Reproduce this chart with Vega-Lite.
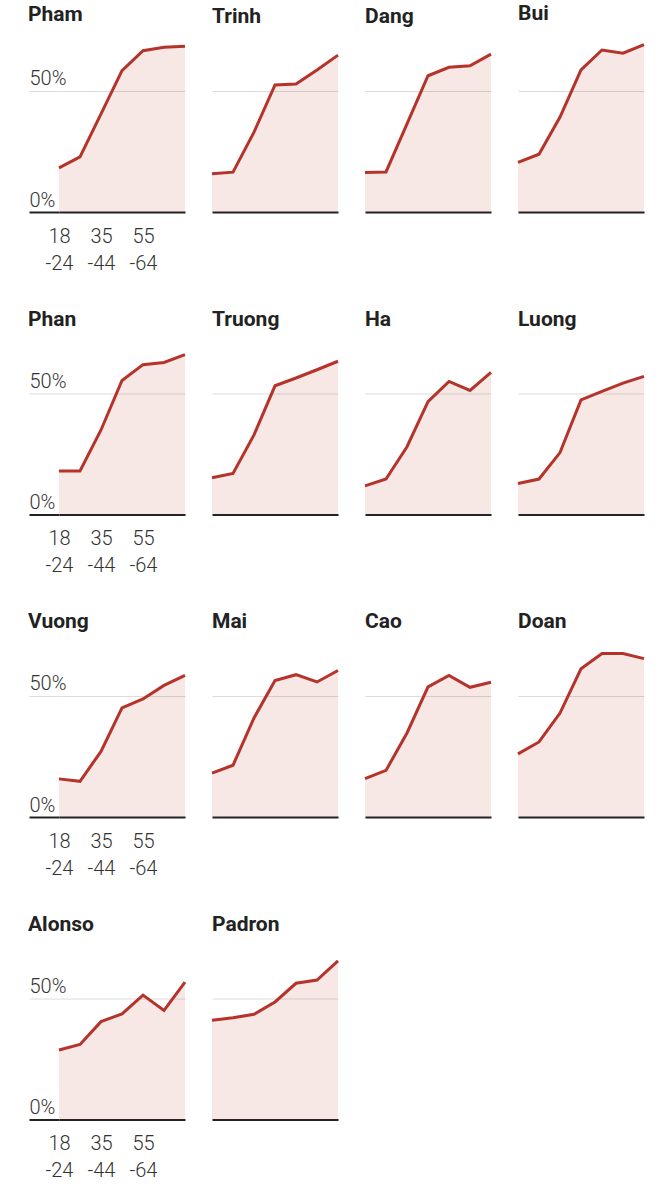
{
  "$schema": "https://vega.github.io/schema/vega-lite/v6.json",
  "padding": {"left": 28, "top": 2, "right": 0, "bottom": 0},
  "background": "white",
  "config": {
    "view": {"stroke": null},
    "font": "Roboto",
    "title": {"anchor": "start", "frame": "group", "fontSize": 21, "fontWeight": "bold", "color": "#222", "offset": 15, "font": "Roboto"},
    "axis": {"labelFont": "Roboto", "labelFontSize": 20, "labelColor": "#333", "labelFontWeight": 300, "title": null}
  },
  "data": {"values": [
    {"name": "Pham", "age": "18-24", "pct": 18.2}, {"name": "Pham", "age": "25-34", "pct": 22.7}, {"name": "Pham", "age": "35-44", "pct": 40.4}, {"name": "Pham", "age": "45-54", "pct": 58.2}, {"name": "Pham", "age": "55-64", "pct": 66.4}, {"name": "Pham", "age": "65-74", "pct": 67.8}, {"name": "Pham", "age": "75+", "pct": 68.2},
    {"name": "Trinh", "age": "18-24", "pct": 15.8}, {"name": "Trinh", "age": "25-34", "pct": 16.4}, {"name": "Trinh", "age": "35-44", "pct": 32.9}, {"name": "Trinh", "age": "45-54", "pct": 52.3}, {"name": "Trinh", "age": "55-64", "pct": 52.7}, {"name": "Trinh", "age": "65-74", "pct": 58.5}, {"name": "Trinh", "age": "75+", "pct": 64.6},
    {"name": "Dang", "age": "18-24", "pct": 16.3}, {"name": "Dang", "age": "25-34", "pct": 16.5}, {"name": "Dang", "age": "35-44", "pct": 36.3}, {"name": "Dang", "age": "45-54", "pct": 56.1}, {"name": "Dang", "age": "55-64", "pct": 59.6}, {"name": "Dang", "age": "65-74", "pct": 60.2}, {"name": "Dang", "age": "75+", "pct": 65.0},
    {"name": "Bui", "age": "18-24", "pct": 20.4}, {"name": "Bui", "age": "25-34", "pct": 23.8}, {"name": "Bui", "age": "35-44", "pct": 39.1}, {"name": "Bui", "age": "45-54", "pct": 58.5}, {"name": "Bui", "age": "55-64", "pct": 66.7}, {"name": "Bui", "age": "65-74", "pct": 65.4}, {"name": "Bui", "age": "75+", "pct": 68.9},
    {"name": "Phan", "age": "18-24", "pct": 17.9}, {"name": "Phan", "age": "25-34", "pct": 17.9}, {"name": "Phan", "age": "35-44", "pct": 34.8}, {"name": "Phan", "age": "45-54", "pct": 55.2}, {"name": "Phan", "age": "55-64", "pct": 61.7}, {"name": "Phan", "age": "65-74", "pct": 62.6}, {"name": "Phan", "age": "75+", "pct": 65.8},
    {"name": "Truong", "age": "18-24", "pct": 15.1}, {"name": "Truong", "age": "25-34", "pct": 16.9}, {"name": "Truong", "age": "35-44", "pct": 32.8}, {"name": "Truong", "age": "45-54", "pct": 53.0}, {"name": "Truong", "age": "55-64", "pct": 56.2}, {"name": "Truong", "age": "65-74", "pct": 59.6}, {"name": "Truong", "age": "75+", "pct": 63.1},
    {"name": "Ha", "age": "18-24", "pct": 11.8}, {"name": "Ha", "age": "25-34", "pct": 14.6}, {"name": "Ha", "age": "35-44", "pct": 27.9}, {"name": "Ha", "age": "45-54", "pct": 46.5}, {"name": "Ha", "age": "55-64", "pct": 54.8}, {"name": "Ha", "age": "65-74", "pct": 51.1}, {"name": "Ha", "age": "75+", "pct": 58.5},
    {"name": "Luong", "age": "18-24", "pct": 12.8}, {"name": "Luong", "age": "25-34", "pct": 14.6}, {"name": "Luong", "age": "35-44", "pct": 25.5}, {"name": "Luong", "age": "45-54", "pct": 47.2}, {"name": "Luong", "age": "55-64", "pct": 50.7}, {"name": "Luong", "age": "65-74", "pct": 54.1}, {"name": "Luong", "age": "75+", "pct": 56.9},
    {"name": "Vuong", "age": "18-24", "pct": 15.7}, {"name": "Vuong", "age": "25-34", "pct": 14.7}, {"name": "Vuong", "age": "35-44", "pct": 27.0}, {"name": "Vuong", "age": "45-54", "pct": 44.9}, {"name": "Vuong", "age": "55-64", "pct": 48.6}, {"name": "Vuong", "age": "65-74", "pct": 54.2}, {"name": "Vuong", "age": "75+", "pct": 58.3},
    {"name": "Mai", "age": "18-24", "pct": 18.1}, {"name": "Mai", "age": "25-34", "pct": 21.3}, {"name": "Mai", "age": "35-44", "pct": 40.8}, {"name": "Mai", "age": "45-54", "pct": 56.2}, {"name": "Mai", "age": "55-64", "pct": 58.6}, {"name": "Mai", "age": "65-74", "pct": 55.6}, {"name": "Mai", "age": "75+", "pct": 60.3},
    {"name": "Cao", "age": "18-24", "pct": 15.8}, {"name": "Cao", "age": "25-34", "pct": 19.2}, {"name": "Cao", "age": "35-44", "pct": 34.6}, {"name": "Cao", "age": "45-54", "pct": 53.6}, {"name": "Cao", "age": "55-64", "pct": 58.3}, {"name": "Cao", "age": "65-74", "pct": 53.4}, {"name": "Cao", "age": "75+", "pct": 55.5},
    {"name": "Doan", "age": "18-24", "pct": 26.0}, {"name": "Doan", "age": "25-34", "pct": 30.9}, {"name": "Doan", "age": "35-44", "pct": 42.8}, {"name": "Doan", "age": "45-54", "pct": 61.0}, {"name": "Doan", "age": "55-64", "pct": 67.3}, {"name": "Doan", "age": "65-74", "pct": 67.3}, {"name": "Doan", "age": "75+", "pct": 65.2},
    {"name": "Alonso", "age": "18-24", "pct": 28.6}, {"name": "Alonso", "age": "25-34", "pct": 30.9}, {"name": "Alonso", "age": "35-44", "pct": 40.3}, {"name": "Alonso", "age": "45-54", "pct": 43.5}, {"name": "Alonso", "age": "55-64", "pct": 51.2}, {"name": "Alonso", "age": "65-74", "pct": 44.9}, {"name": "Alonso", "age": "75+", "pct": 56.6},
    {"name": "Padron", "age": "18-24", "pct": 40.9}, {"name": "Padron", "age": "25-34", "pct": 41.9}, {"name": "Padron", "age": "35-44", "pct": 43.3}, {"name": "Padron", "age": "45-54", "pct": 48.4}, {"name": "Padron", "age": "55-64", "pct": 56.1}, {"name": "Padron", "age": "65-74", "pct": 57.4}, {"name": "Padron", "age": "75+", "pct": 65.3}
  ]},
  "bounds": "flush",
  "spacing": 302.5,
  "vconcat": [
    {"spacing": 27, "bounds": "flush", "hconcat": [
      {"title": {"text": "Pham", "frame": "bounds"}, "width": 126, "height": 170, "transform": [{"filter": "datum.name === 'Pham'"}], "layer": [
        {"mark": {"type": "area", "color": "#c0392b", "opacity": 0.12}, "encoding": {
          "x": {"field": "age", "type": "ordinal", "scale": {"type": "point", "padding": 0, "domain": ["18-24", "25-34", "35-44", "45-54", "55-64", "65-74", "75+"]}, "axis": {"values": ["18-24", "35-44", "55-64"], "labelExpr": "[slice(datum.label, 0, 2), slice(datum.label, 2)]", "labelAngle": 0, "ticks": false, "grid": false, "domainColor": "#222", "domainWidth": 2, "labelPadding": 14, "labelLineHeight": 27, "labelBaseline": "top"}},
          "y": {"field": "pct", "type": "quantitative", "scale": {"domain": [0, 70]}, "axis": {"values": [0, 50], "labelExpr": "datum.value + '%'", "tickSize": 30, "tickColor": {"condition": {"test": "datum.value === 0", "value": "#222"}, "value": "#dcdcdc"}, "tickWidth": {"condition": {"test": "datum.value === 0", "value": 2}, "value": 1}, "labelAlign": "left", "labelPadding": 0, "labelBaseline": "alphabetic", "labelOffset": -6, "grid": true, "gridColor": "#dcdcdc", "domain": false}}
        }},
        {"mark": {"type": "line", "color": "#b5332a", "strokeWidth": 3}, "encoding": {"x": {"field": "age", "type": "ordinal", "scale": {"type": "point", "padding": 0, "domain": ["18-24", "25-34", "35-44", "45-54", "55-64", "65-74", "75+"]}}, "y": {"field": "pct", "type": "quantitative"}}}
      ]},
      {"title": "Trinh", "width": 126, "height": 170, "transform": [{"filter": "datum.name === 'Trinh'"}], "layer": [
        {"mark": {"type": "area", "color": "#c0392b", "opacity": 0.12}, "encoding": {
          "x": {"field": "age", "type": "ordinal", "scale": {"type": "point", "padding": 0, "domain": ["18-24", "25-34", "35-44", "45-54", "55-64", "65-74", "75+"]}, "axis": {"labels": false, "ticks": false, "grid": false, "domainColor": "#222", "domainWidth": 2}},
          "y": {"field": "pct", "type": "quantitative", "scale": {"domain": [0, 70]}, "axis": {"values": [0, 50], "labels": false, "ticks": false, "grid": true, "gridColor": "#dcdcdc", "domain": false}}
        }},
        {"mark": {"type": "line", "color": "#b5332a", "strokeWidth": 3}, "encoding": {"x": {"field": "age", "type": "ordinal", "scale": {"type": "point", "padding": 0, "domain": ["18-24", "25-34", "35-44", "45-54", "55-64", "65-74", "75+"]}}, "y": {"field": "pct", "type": "quantitative"}}}
      ]},
      {"title": "Dang", "width": 126, "height": 170, "transform": [{"filter": "datum.name === 'Dang'"}], "layer": [
        {"mark": {"type": "area", "color": "#c0392b", "opacity": 0.12}, "encoding": {
          "x": {"field": "age", "type": "ordinal", "scale": {"type": "point", "padding": 0, "domain": ["18-24", "25-34", "35-44", "45-54", "55-64", "65-74", "75+"]}, "axis": {"labels": false, "ticks": false, "grid": false, "domainColor": "#222", "domainWidth": 2}},
          "y": {"field": "pct", "type": "quantitative", "scale": {"domain": [0, 70]}, "axis": {"values": [0, 50], "labels": false, "ticks": false, "grid": true, "gridColor": "#dcdcdc", "domain": false}}
        }},
        {"mark": {"type": "line", "color": "#b5332a", "strokeWidth": 3}, "encoding": {"x": {"field": "age", "type": "ordinal", "scale": {"type": "point", "padding": 0, "domain": ["18-24", "25-34", "35-44", "45-54", "55-64", "65-74", "75+"]}}, "y": {"field": "pct", "type": "quantitative"}}}
      ]},
      {"title": "Bui", "width": 126, "height": 170, "transform": [{"filter": "datum.name === 'Bui'"}], "layer": [
        {"mark": {"type": "area", "color": "#c0392b", "opacity": 0.12}, "encoding": {
          "x": {"field": "age", "type": "ordinal", "scale": {"type": "point", "padding": 0, "domain": ["18-24", "25-34", "35-44", "45-54", "55-64", "65-74", "75+"]}, "axis": {"labels": false, "ticks": false, "grid": false, "domainColor": "#222", "domainWidth": 2}},
          "y": {"field": "pct", "type": "quantitative", "scale": {"domain": [0, 70]}, "axis": {"values": [0, 50], "labels": false, "ticks": false, "grid": true, "gridColor": "#dcdcdc", "domain": false}}
        }},
        {"mark": {"type": "line", "color": "#b5332a", "strokeWidth": 3}, "encoding": {"x": {"field": "age", "type": "ordinal", "scale": {"type": "point", "padding": 0, "domain": ["18-24", "25-34", "35-44", "45-54", "55-64", "65-74", "75+"]}}, "y": {"field": "pct", "type": "quantitative"}}}
      ]}
    ]},
    {"spacing": 27, "bounds": "flush", "hconcat": [
      {"title": {"text": "Phan", "frame": "bounds"}, "width": 126, "height": 170, "transform": [{"filter": "datum.name === 'Phan'"}], "layer": [
        {"mark": {"type": "area", "color": "#c0392b", "opacity": 0.12}, "encoding": {
          "x": {"field": "age", "type": "ordinal", "scale": {"type": "point", "padding": 0, "domain": ["18-24", "25-34", "35-44", "45-54", "55-64", "65-74", "75+"]}, "axis": {"values": ["18-24", "35-44", "55-64"], "labelExpr": "[slice(datum.label, 0, 2), slice(datum.label, 2)]", "labelAngle": 0, "ticks": false, "grid": false, "domainColor": "#222", "domainWidth": 2, "labelPadding": 14, "labelLineHeight": 27, "labelBaseline": "top"}},
          "y": {"field": "pct", "type": "quantitative", "scale": {"domain": [0, 70]}, "axis": {"values": [0, 50], "labelExpr": "datum.value + '%'", "tickSize": 30, "tickColor": {"condition": {"test": "datum.value === 0", "value": "#222"}, "value": "#dcdcdc"}, "tickWidth": {"condition": {"test": "datum.value === 0", "value": 2}, "value": 1}, "labelAlign": "left", "labelPadding": 0, "labelBaseline": "alphabetic", "labelOffset": -6, "grid": true, "gridColor": "#dcdcdc", "domain": false}}
        }},
        {"mark": {"type": "line", "color": "#b5332a", "strokeWidth": 3}, "encoding": {"x": {"field": "age", "type": "ordinal", "scale": {"type": "point", "padding": 0, "domain": ["18-24", "25-34", "35-44", "45-54", "55-64", "65-74", "75+"]}}, "y": {"field": "pct", "type": "quantitative"}}}
      ]},
      {"title": "Truong", "width": 126, "height": 170, "transform": [{"filter": "datum.name === 'Truong'"}], "layer": [
        {"mark": {"type": "area", "color": "#c0392b", "opacity": 0.12}, "encoding": {
          "x": {"field": "age", "type": "ordinal", "scale": {"type": "point", "padding": 0, "domain": ["18-24", "25-34", "35-44", "45-54", "55-64", "65-74", "75+"]}, "axis": {"labels": false, "ticks": false, "grid": false, "domainColor": "#222", "domainWidth": 2}},
          "y": {"field": "pct", "type": "quantitative", "scale": {"domain": [0, 70]}, "axis": {"values": [0, 50], "labels": false, "ticks": false, "grid": true, "gridColor": "#dcdcdc", "domain": false}}
        }},
        {"mark": {"type": "line", "color": "#b5332a", "strokeWidth": 3}, "encoding": {"x": {"field": "age", "type": "ordinal", "scale": {"type": "point", "padding": 0, "domain": ["18-24", "25-34", "35-44", "45-54", "55-64", "65-74", "75+"]}}, "y": {"field": "pct", "type": "quantitative"}}}
      ]},
      {"title": "Ha", "width": 126, "height": 170, "transform": [{"filter": "datum.name === 'Ha'"}], "layer": [
        {"mark": {"type": "area", "color": "#c0392b", "opacity": 0.12}, "encoding": {
          "x": {"field": "age", "type": "ordinal", "scale": {"type": "point", "padding": 0, "domain": ["18-24", "25-34", "35-44", "45-54", "55-64", "65-74", "75+"]}, "axis": {"labels": false, "ticks": false, "grid": false, "domainColor": "#222", "domainWidth": 2}},
          "y": {"field": "pct", "type": "quantitative", "scale": {"domain": [0, 70]}, "axis": {"values": [0, 50], "labels": false, "ticks": false, "grid": true, "gridColor": "#dcdcdc", "domain": false}}
        }},
        {"mark": {"type": "line", "color": "#b5332a", "strokeWidth": 3}, "encoding": {"x": {"field": "age", "type": "ordinal", "scale": {"type": "point", "padding": 0, "domain": ["18-24", "25-34", "35-44", "45-54", "55-64", "65-74", "75+"]}}, "y": {"field": "pct", "type": "quantitative"}}}
      ]},
      {"title": "Luong", "width": 126, "height": 170, "transform": [{"filter": "datum.name === 'Luong'"}], "layer": [
        {"mark": {"type": "area", "color": "#c0392b", "opacity": 0.12}, "encoding": {
          "x": {"field": "age", "type": "ordinal", "scale": {"type": "point", "padding": 0, "domain": ["18-24", "25-34", "35-44", "45-54", "55-64", "65-74", "75+"]}, "axis": {"labels": false, "ticks": false, "grid": false, "domainColor": "#222", "domainWidth": 2}},
          "y": {"field": "pct", "type": "quantitative", "scale": {"domain": [0, 70]}, "axis": {"values": [0, 50], "labels": false, "ticks": false, "grid": true, "gridColor": "#dcdcdc", "domain": false}}
        }},
        {"mark": {"type": "line", "color": "#b5332a", "strokeWidth": 3}, "encoding": {"x": {"field": "age", "type": "ordinal", "scale": {"type": "point", "padding": 0, "domain": ["18-24", "25-34", "35-44", "45-54", "55-64", "65-74", "75+"]}}, "y": {"field": "pct", "type": "quantitative"}}}
      ]}
    ]},
    {"spacing": 27, "bounds": "flush", "hconcat": [
      {"title": {"text": "Vuong", "frame": "bounds"}, "width": 126, "height": 170, "transform": [{"filter": "datum.name === 'Vuong'"}], "layer": [
        {"mark": {"type": "area", "color": "#c0392b", "opacity": 0.12}, "encoding": {
          "x": {"field": "age", "type": "ordinal", "scale": {"type": "point", "padding": 0, "domain": ["18-24", "25-34", "35-44", "45-54", "55-64", "65-74", "75+"]}, "axis": {"values": ["18-24", "35-44", "55-64"], "labelExpr": "[slice(datum.label, 0, 2), slice(datum.label, 2)]", "labelAngle": 0, "ticks": false, "grid": false, "domainColor": "#222", "domainWidth": 2, "labelPadding": 14, "labelLineHeight": 27, "labelBaseline": "top"}},
          "y": {"field": "pct", "type": "quantitative", "scale": {"domain": [0, 70]}, "axis": {"values": [0, 50], "labelExpr": "datum.value + '%'", "tickSize": 30, "tickColor": {"condition": {"test": "datum.value === 0", "value": "#222"}, "value": "#dcdcdc"}, "tickWidth": {"condition": {"test": "datum.value === 0", "value": 2}, "value": 1}, "labelAlign": "left", "labelPadding": 0, "labelBaseline": "alphabetic", "labelOffset": -6, "grid": true, "gridColor": "#dcdcdc", "domain": false}}
        }},
        {"mark": {"type": "line", "color": "#b5332a", "strokeWidth": 3}, "encoding": {"x": {"field": "age", "type": "ordinal", "scale": {"type": "point", "padding": 0, "domain": ["18-24", "25-34", "35-44", "45-54", "55-64", "65-74", "75+"]}}, "y": {"field": "pct", "type": "quantitative"}}}
      ]},
      {"title": "Mai", "width": 126, "height": 170, "transform": [{"filter": "datum.name === 'Mai'"}], "layer": [
        {"mark": {"type": "area", "color": "#c0392b", "opacity": 0.12}, "encoding": {
          "x": {"field": "age", "type": "ordinal", "scale": {"type": "point", "padding": 0, "domain": ["18-24", "25-34", "35-44", "45-54", "55-64", "65-74", "75+"]}, "axis": {"labels": false, "ticks": false, "grid": false, "domainColor": "#222", "domainWidth": 2}},
          "y": {"field": "pct", "type": "quantitative", "scale": {"domain": [0, 70]}, "axis": {"values": [0, 50], "labels": false, "ticks": false, "grid": true, "gridColor": "#dcdcdc", "domain": false}}
        }},
        {"mark": {"type": "line", "color": "#b5332a", "strokeWidth": 3}, "encoding": {"x": {"field": "age", "type": "ordinal", "scale": {"type": "point", "padding": 0, "domain": ["18-24", "25-34", "35-44", "45-54", "55-64", "65-74", "75+"]}}, "y": {"field": "pct", "type": "quantitative"}}}
      ]},
      {"title": "Cao", "width": 126, "height": 170, "transform": [{"filter": "datum.name === 'Cao'"}], "layer": [
        {"mark": {"type": "area", "color": "#c0392b", "opacity": 0.12}, "encoding": {
          "x": {"field": "age", "type": "ordinal", "scale": {"type": "point", "padding": 0, "domain": ["18-24", "25-34", "35-44", "45-54", "55-64", "65-74", "75+"]}, "axis": {"labels": false, "ticks": false, "grid": false, "domainColor": "#222", "domainWidth": 2}},
          "y": {"field": "pct", "type": "quantitative", "scale": {"domain": [0, 70]}, "axis": {"values": [0, 50], "labels": false, "ticks": false, "grid": true, "gridColor": "#dcdcdc", "domain": false}}
        }},
        {"mark": {"type": "line", "color": "#b5332a", "strokeWidth": 3}, "encoding": {"x": {"field": "age", "type": "ordinal", "scale": {"type": "point", "padding": 0, "domain": ["18-24", "25-34", "35-44", "45-54", "55-64", "65-74", "75+"]}}, "y": {"field": "pct", "type": "quantitative"}}}
      ]},
      {"title": "Doan", "width": 126, "height": 170, "transform": [{"filter": "datum.name === 'Doan'"}], "layer": [
        {"mark": {"type": "area", "color": "#c0392b", "opacity": 0.12}, "encoding": {
          "x": {"field": "age", "type": "ordinal", "scale": {"type": "point", "padding": 0, "domain": ["18-24", "25-34", "35-44", "45-54", "55-64", "65-74", "75+"]}, "axis": {"labels": false, "ticks": false, "grid": false, "domainColor": "#222", "domainWidth": 2}},
          "y": {"field": "pct", "type": "quantitative", "scale": {"domain": [0, 70]}, "axis": {"values": [0, 50], "labels": false, "ticks": false, "grid": true, "gridColor": "#dcdcdc", "domain": false}}
        }},
        {"mark": {"type": "line", "color": "#b5332a", "strokeWidth": 3}, "encoding": {"x": {"field": "age", "type": "ordinal", "scale": {"type": "point", "padding": 0, "domain": ["18-24", "25-34", "35-44", "45-54", "55-64", "65-74", "75+"]}}, "y": {"field": "pct", "type": "quantitative"}}}
      ]}
    ]},
    {"spacing": 27, "bounds": "flush", "hconcat": [
      {"title": {"text": "Alonso", "frame": "bounds"}, "width": 126, "height": 170, "transform": [{"filter": "datum.name === 'Alonso'"}], "layer": [
        {"mark": {"type": "area", "color": "#c0392b", "opacity": 0.12}, "encoding": {
          "x": {"field": "age", "type": "ordinal", "scale": {"type": "point", "padding": 0, "domain": ["18-24", "25-34", "35-44", "45-54", "55-64", "65-74", "75+"]}, "axis": {"values": ["18-24", "35-44", "55-64"], "labelExpr": "[slice(datum.label, 0, 2), slice(datum.label, 2)]", "labelAngle": 0, "ticks": false, "grid": false, "domainColor": "#222", "domainWidth": 2, "labelPadding": 14, "labelLineHeight": 27, "labelBaseline": "top"}},
          "y": {"field": "pct", "type": "quantitative", "scale": {"domain": [0, 70]}, "axis": {"values": [0, 50], "labelExpr": "datum.value + '%'", "tickSize": 30, "tickColor": {"condition": {"test": "datum.value === 0", "value": "#222"}, "value": "#dcdcdc"}, "tickWidth": {"condition": {"test": "datum.value === 0", "value": 2}, "value": 1}, "labelAlign": "left", "labelPadding": 0, "labelBaseline": "alphabetic", "labelOffset": -6, "grid": true, "gridColor": "#dcdcdc", "domain": false}}
        }},
        {"mark": {"type": "line", "color": "#b5332a", "strokeWidth": 3}, "encoding": {"x": {"field": "age", "type": "ordinal", "scale": {"type": "point", "padding": 0, "domain": ["18-24", "25-34", "35-44", "45-54", "55-64", "65-74", "75+"]}}, "y": {"field": "pct", "type": "quantitative"}}}
      ]},
      {"title": "Padron", "width": 126, "height": 170, "transform": [{"filter": "datum.name === 'Padron'"}], "layer": [
        {"mark": {"type": "area", "color": "#c0392b", "opacity": 0.12}, "encoding": {
          "x": {"field": "age", "type": "ordinal", "scale": {"type": "point", "padding": 0, "domain": ["18-24", "25-34", "35-44", "45-54", "55-64", "65-74", "75+"]}, "axis": {"labels": false, "ticks": false, "grid": false, "domainColor": "#222", "domainWidth": 2}},
          "y": {"field": "pct", "type": "quantitative", "scale": {"domain": [0, 70]}, "axis": {"values": [0, 50], "labels": false, "ticks": false, "grid": true, "gridColor": "#dcdcdc", "domain": false}}
        }},
        {"mark": {"type": "line", "color": "#b5332a", "strokeWidth": 3}, "encoding": {"x": {"field": "age", "type": "ordinal", "scale": {"type": "point", "padding": 0, "domain": ["18-24", "25-34", "35-44", "45-54", "55-64", "65-74", "75+"]}}, "y": {"field": "pct", "type": "quantitative"}}}
      ]}
    ]}
  ]
}
